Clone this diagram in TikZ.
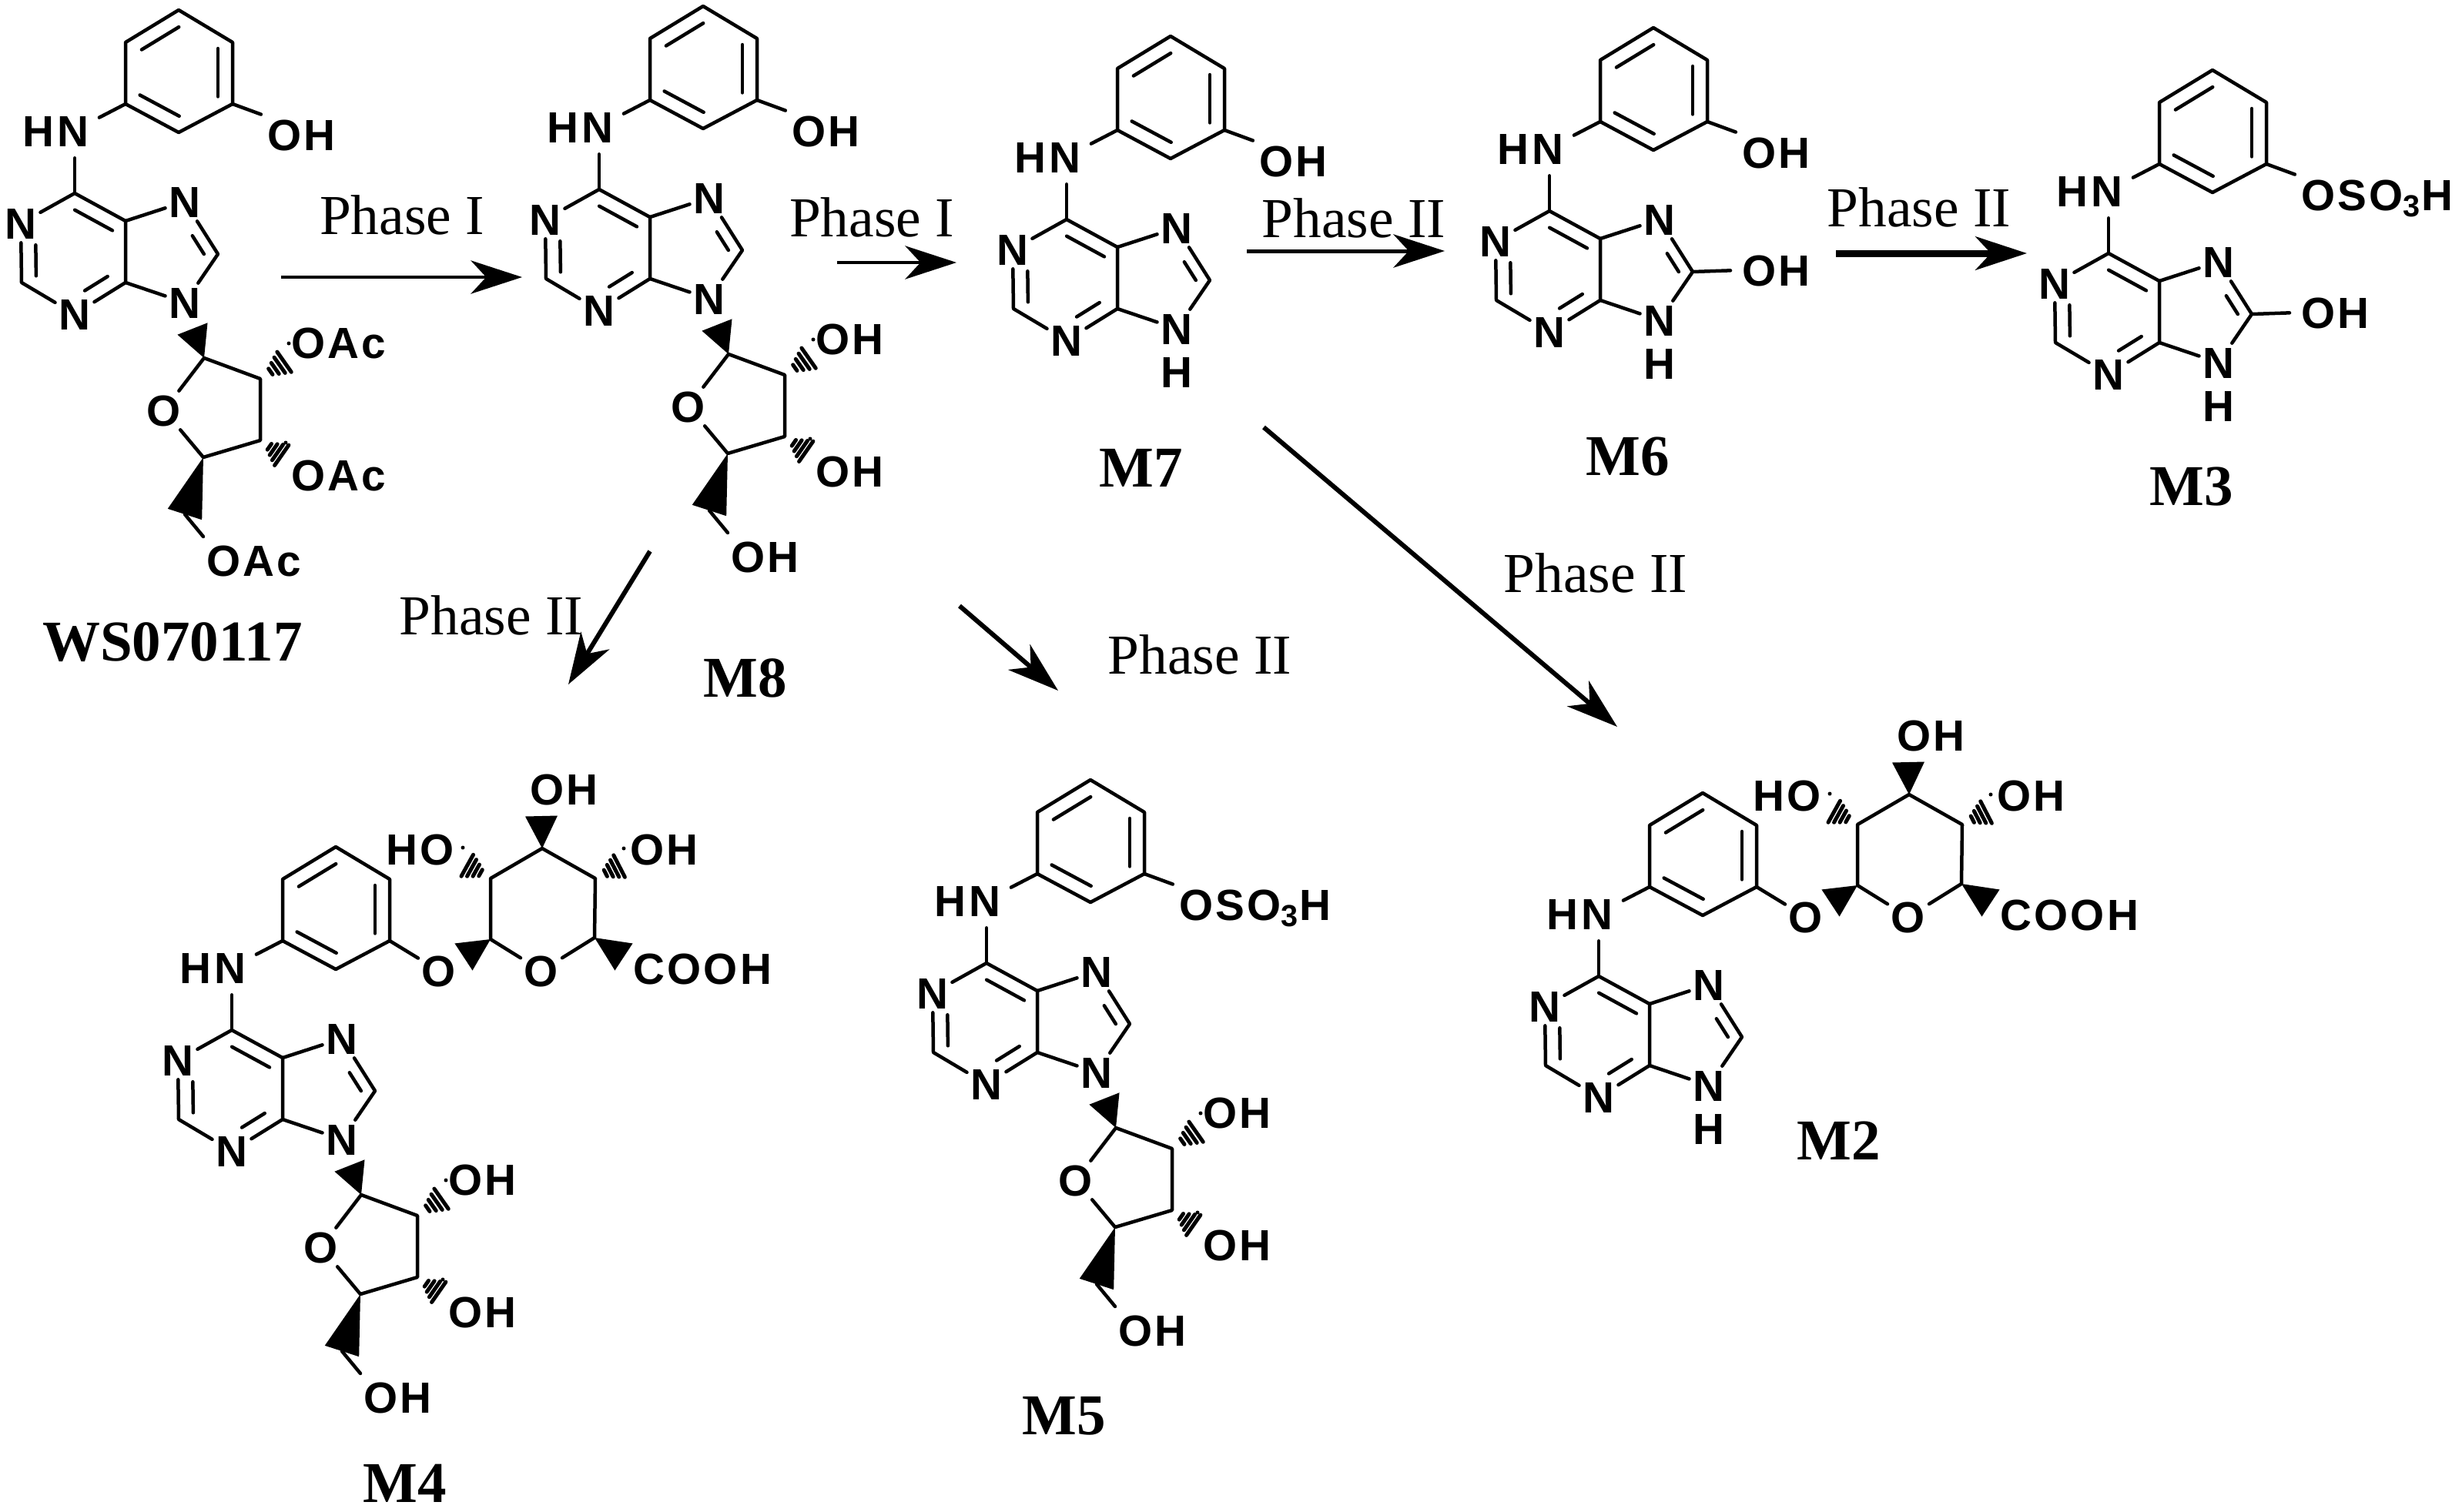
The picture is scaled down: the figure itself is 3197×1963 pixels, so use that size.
\documentclass[tikz,border=0pt]{standalone}
\usepackage{fontspec}
\setmainfont{Liberation Serif}
\newfontfamily\atomfont[LetterSpace=6]{Liberation Sans}
\usetikzlibrary{arrows.meta,calc}
\newcommand{\innerbond}[6][5.7pt]{\draw[bond] ($(#2)!#4!(#3)!#1!#6:(#3)$) -- ($(#2)!#5!(#3)!#1!#6:(#3)$);}
\newcommand{\solidwedge}[3][6.3pt]{\fill ($(#3)!#1!90:(#2)$) -- ($(#3)!#1!-90:(#2)$) -- (#2) -- cycle;}
\newcommand{\hashwedge}[2]{\foreach \f/\w in {.36/1.4pt,.52/2.6pt,.68/3.7pt,.84/4.8pt,1/6pt}
	\draw[hash] ($(#1)!\f!(#2)!\w!90:(#2)$) -- ($(#1)!\f!(#2)!\w!-90:(#2)$);}
\tikzset{
	bond/.style={
		line width=1.35pt,
		line cap=round,
		line join=round
	},
	hash/.style={
		line width=1.5pt,
		line cap=round
	},
	atom/.style={
		font=\atomfont\bfseries\fontsize{17}{20}\selectfont,
		inner sep=1.3pt,
		text height=12.2pt,
		text depth=0pt
	},
	molname/.style={
		font=\bfseries\fontsize{22.5}{26}\selectfont,
		inner sep=0pt
	},
	phase/.style={
		font=\fontsize{22}{26}\selectfont,
		inner sep=0pt
	},
	reaction/.style={
		line width=#1,
		-{Stealth[length=20pt,width=13pt,inset=6pt]}
	},
	pics/aminopurine/.style={code={
		\node[atom] (N1) at (-70,39) {N};
		\node[atom] (N3) at (0,157) {N};
		\node[atom] (N7) at (143,11) {N};
		\node[atom] (N9) at (143,142) {N};
		\node[atom,anchor=east] (NH) at (23,-81) {HN};
		\coordinate (C6) at (0,0);
		\coordinate (C5) at (66,36);
		\coordinate (C4) at (66,116);
		\coordinate (C2) at (-69,116);
		\coordinate (C8) at (186,79);
		\coordinate (C1p) at (66,-116);
		\coordinate (C2p) at (66,-196);
		\coordinate (C3p) at (135,-238);
		\coordinate (C4p) at (205,-196);
		\coordinate (C5p) at (205,-116);
		\coordinate (C6p) at (135,-79);
		\draw[bond] (C6) -- (C5) -- (C4) -- (N3) -- (C2) -- (N1) -- (C6);
		\draw[bond] (C5) -- (N7) -- (C8) -- (N9) -- (C4);
		\draw[bond] (C1p) -- (C2p) -- (C3p) -- (C4p) -- (C5p) -- (C6p) -- cycle;
		\draw[bond,shorten >=3pt] (C6) -- (NH.south -| C6);
		\draw[bond,shorten >=3pt] (C1p) -- (NH.15);
		\innerbond{C6}{C5}{.14}{.88}{-90}
		\innerbond{C4}{N3}{.2}{.65}{-90}
		\innerbond{C2}{N1}{.11}{.63}{-90}
		\innerbond[4.6pt]{C8}{N7}{.12}{.47}{90}
		\innerbond{C2p}{C3p}{.16}{.86}{-90}
		\innerbond{C4p}{C5p}{.1}{.88}{-90}
		\innerbond{C6p}{C1p}{.12}{.86}{-90}
	}},
	pics/aryloxy/.style={code={
		\node[atom,anchor=west] (Oa) at (245,-76) {#1};
		\draw[bond,shorten >=1pt] (C5p) -- (Oa.north west);
	}},
	pics/nineh/.style={code={
		\node[atom] (H9) at (143,198) {H};
	}},
	pics/eightoh/.style={code={
		\node[atom,anchor=west] (O8) at (245,77) {OH};
		\draw[bond,shorten >=3pt] (C8) -- (O8.west);
	}},
	pics/ribose/.style={code={
		\node[atom] (Or) at (116,282) {O};
		\node[atom,anchor=west] (O2r) at (276,194) {#1};
		\node[atom,anchor=west] (O3r) at (276,366) {#1};
		\node[atom,anchor=west] (O5r) at (166,477) {#1};
		\coordinate (C1r) at (168,214);
		\coordinate (C2r) at (241,241);
		\coordinate (C3r) at (241,321);
		\coordinate (C4r) at (167,343);
		\coordinate (C5r) at (143,417);
		\coordinate (E5r) at (167,446);
		\coordinate (W1r) at (153,176);
		\coordinate (H2r) at (278,215);
		\coordinate (H3r) at (274,344);
		\draw[bond] (Or) -- (C1r) -- (C2r) -- (C3r) -- (C4r) -- (Or);
		\draw[bond] (C5r) -- (E5r);
		\solidwedge{C1r}{W1r}
		\solidwedge[7pt]{C4r}{C5r}
		\hashwedge{C2r}{H2r}
		\hashwedge{C3r}{H3r}
	}},
	pics/glucuronide/.style={code={
		\node[atom] (Og) at (269,-77) {O};
		\node[atom] (Or) at (402,-77) {O};
		\node[atom,anchor=west] (Cx) at (516,-80) {COOH};
		\node[atom,anchor=west] (O3g) at (382,-313) {OH};
		\node[atom,anchor=east] (O2g) at (294,-235) {HO};
		\node[atom,anchor=west] (O4g) at (512,-235) {OH};
		\coordinate (C1g) at (336,-118);
		\coordinate (C2g) at (336,-197);
		\coordinate (C3g) at (403,-236);
		\coordinate (C4g) at (472,-197);
		\coordinate (C5g) at (471,-120);
		\coordinate (W1g) at (301,-95);
		\coordinate (W3g) at (402,-278);
		\coordinate (W5g) at (509,-95);
		\coordinate (H2g) at (300,-217);
		\coordinate (H4g) at (509,-216);
		\draw[bond] (Or) -- (C1g) -- (C2g) -- (C3g) -- (C4g) -- (C5g) -- (Or);
		\draw[bond] (C5p) -- (Og);
		\solidwedge{C1g}{W1g}
		\solidwedge{C3g}{W3g}
		\solidwedge{C5g}{W5g}
		\hashwedge{C2g}{H2g}
		\hashwedge{C4g}{H4g}
	}},
}
\begin{document}
\begin{tikzpicture}[x=0.3pt,y=-0.3pt]
	\useasboundingbox (0,0) rectangle (3197,1963);
	\coordinate (posws) at (97,251);
	\coordinate (posmviii) at (778,246);
	\coordinate (posmvii) at (1385,285);
	\coordinate (posmvi) at (2012,274);
	\coordinate (posmiii) at (2738,329);
	\coordinate (posmiv) at (301,1338);
	\coordinate (posmv) at (1281,1251);
	\coordinate (posmii) at (2076,1268);

	\foreach \mol in {ws,mviii,mvii,mvi,miii,miv,mv,mii}
		\pic (\mol) at (pos\mol) {aminopurine};

	\pic (ws) at (posws) {aryloxy={OH}};
	\pic (ws) at (posws) {ribose={OAc}};
	\pic (mviii) at (posmviii) {aryloxy={OH}};
	\pic (mviii) at (posmviii) {ribose={OH}};
	\pic (mvii) at (posmvii) {aryloxy={OH}};
	\pic (mvii) at (posmvii) {nineh};
	\pic (mvi) at (posmvi) {aryloxy={OH}};
	\pic (mvi) at (posmvi) {nineh};
	\pic (mvi) at (posmvi) {eightoh};
	\pic (miii) at (posmiii) {aryloxy={OSO\textsubscript{3}H}};
	\pic (miii) at (posmiii) {nineh};
	\pic (miii) at (posmiii) {eightoh};
	\pic (miv) at (posmiv) {glucuronide};
	\pic (miv) at (posmiv) {ribose={OH}};
	\pic (mv) at (posmv) {aryloxy={OSO\textsubscript{3}H}};
	\pic (mv) at (posmv) {ribose={OH}};
	\pic (mii) at (posmii) {glucuronide};
	\pic (mii) at (posmii) {nineh};

	\node[molname] (nws) at (224,834) {WS070117};
	\node[molname] (nmviii) at (968,881) {M8};
	\node[molname] (nmvii) at (1482,608) {M7};
	\node[molname] (nmvi) at (2114,593) {M6};
	\node[molname] (nmiii) at (2846,632) {M3};
	\node[molname] (nmiv) at (526,1927) {M4};
	\node[molname] (nmv) at (1382,1839) {M5};
	\node[molname] (nmii) at (2388,1482) {M2};

	\node[phase] (pa) at (522,279) {Phase I};
	\node[phase] (pb) at (1132,282) {Phase I};
	\node[phase] (pc) at (1758,283) {Phase II};
	\node[phase] (pd) at (2492,269) {Phase II};
	\node[phase] (pe) at (2072,744) {Phase II};
	\node[phase] (pf) at (638,799) {Phase II};
	\node[phase] (pg) at (1558,850) {Phase II};

	\coordinate (aas) at (365,360);
	\coordinate (aae) at (678,360);
	\coordinate (abs) at (1087,341);
	\coordinate (abe) at (1242,341);
	\coordinate (acs) at (1619,326);
	\coordinate (ace) at (1876,326);
	\coordinate (ads) at (2384,329);
	\coordinate (ade) at (2632,329);
	\coordinate (aes) at (1641,555);
	\coordinate (aee) at (2100,944);
	\coordinate (afs) at (844,716);
	\coordinate (afe) at (738,889);
	\coordinate (ags) at (1246,787);
	\coordinate (age) at (1374,897);

	\draw[reaction=1pt] (aas) -- (aae);
	\draw[reaction=1.2pt] (abs) -- (abe);
	\draw[reaction=1.5pt] (acs) -- (ace);
	\draw[reaction=2.7pt] (ads) -- (ade);
	\draw[reaction=1.8pt] (aes) -- (aee);
	\draw[reaction=1.8pt] (afs) -- (afe);
	\draw[reaction=1.8pt] (ags) -- (age);
\end{tikzpicture}
\end{document}
